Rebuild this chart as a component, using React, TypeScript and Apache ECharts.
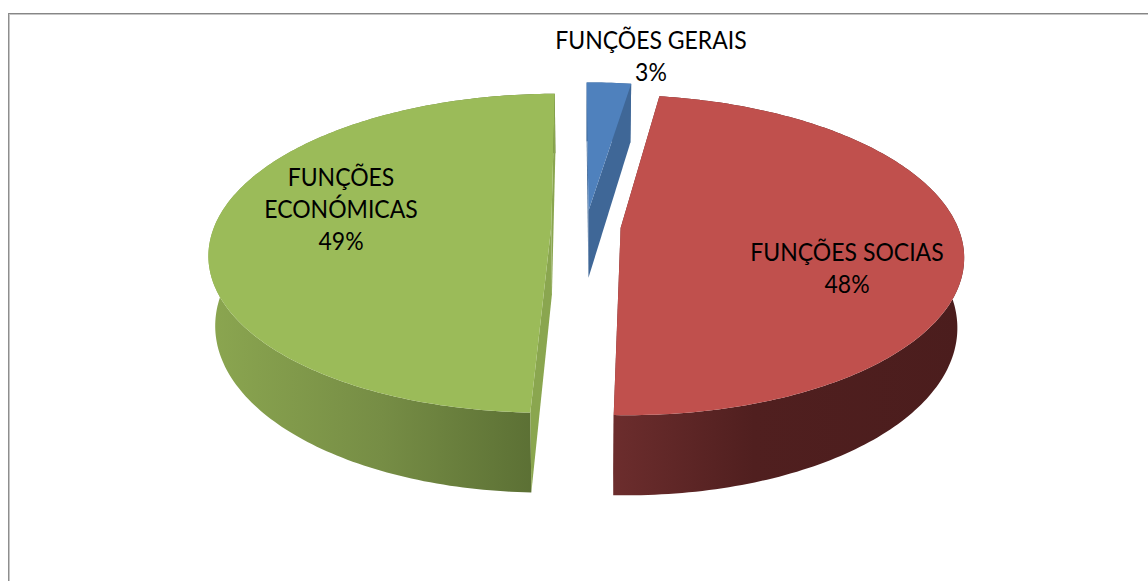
import React, { useEffect, useRef } from "react";
import * as echarts from "echarts";

const categories = ["FUNÇÕES GERAIS", "FUNÇÕES SOCIAS", "FUNÇÕES\nECONÓMICAS"];
const shares = [2.5, 48.13, 49.37];

const topColors = ["#4F81BD", "#C0504D", "#9BBB59"];
const cutColors = ["#3F6797", "#6C2D2D", "#8AA64F"];
const wallStops = [
  [[0, "#3F6797"], [1, "#3F6797"]],
  [[0, "#6C2D2D"], [0.4, "#501F1F"], [1, "#4B1D1D"]],
  [[0, "#8BA650"], [0.5, "#768D45"], [1, "#586C32"]],
];
const labelAnchors = [
  [651, 55],
  [847, 267],
  [341, 208],
];

const FONT = 'Lato, "Open Sans", sans-serif';
const CX = 586;
const CY = 226.5;
const A = 337;
const B = 155;
const K = 0.169;
const EXPLODE = 0.103;
const DEPTH = 68;
const SHRINK_X = 0.982;
const SHRINK_Y = 0.99;
const START = (-0.3 * Math.PI) / 180;

function renderSlice(params: any, api: any) {
  const i = params.dataIndex;
  const total = shares.reduce((a, b) => a + b, 0);
  const before = shares.slice(0, i).reduce((a, b) => a + b, 0);
  const value = api.value(0);
  const t0 = START + (before / total) * Math.PI * 2;
  const t1 = START + ((before + value) / total) * Math.PI * 2;
  const mid = (t0 + t1) / 2;
  const du = EXPLODE * Math.sin(mid);
  const dv = EXPLODE * Math.cos(mid);

  const proj = (r: number, th: number, low: boolean) => {
    const u = du + r * Math.sin(th);
    const v = dv + r * Math.cos(th);
    const w = 1 + K * v;
    const sx = low ? SHRINK_X : 1;
    const sy = low ? SHRINK_Y : 1;
    return [CX + (A * u * sx) / w, CY - (B * v * sy) / w + (low ? DEPTH / w : 0)];
  };

  const arc = (low: boolean) => {
    const n = Math.max(6, Math.ceil(((t1 - t0) * 180) / Math.PI));
    const pts: number[][] = [];
    for (let j = 0; j <= n; j++) pts.push(proj(1, t0 + ((t1 - t0) * j) / n, low));
    return pts;
  };

  const topArc = arc(false);
  const lowArc = arc(true);
  const poly = (points: number[][], fill: any) => ({
    type: "polygon",
    shape: { points },
    style: { fill, stroke: null },
  });

  const face = (th: number) => [
    proj(0, 0, false),
    proj(1, th, false),
    proj(1, th, true),
    proj(0, 0, true),
  ];

  const children: any[] = [
    poly([...topArc, ...lowArc.slice().reverse()], {
      type: "linear",
      x: 0,
      y: 0,
      x2: 1,
      y2: 0,
      colorStops: wallStops[i].map(([offset, color]) => ({ offset, color })),
    }),
    poly(face(t0), cutColors[i]),
    poly(face(t1), cutColors[i]),
    poly([proj(0, 0, false), ...topArc], topColors[i]),
    {
      type: "text",
      z2: 10,
      x: labelAnchors[i][0],
      y: labelAnchors[i][1],
      scaleX: 0.92,
      style: {
        text: `${categories[i]}\n${Math.round((value / total) * 100)}%`,
        x: 0,
        y: 0,
        textAlign: "center",
        textVerticalAlign: "middle",
        fontFamily: FONT,
        fontSize: 25,
        lineHeight: 32,
        fill: "#000000",
      },
    },
  ];
  return { type: "group", children };
}

export default function App() {
  const ref = useRef<HTMLDivElement>(null);
  useEffect(() => {
    const chart = echarts.init(ref.current!, null, { renderer: "svg" });
    chart.setOption({
      animation: false,
      backgroundColor: "#ffffff",
      graphic: [
        { type: "line", silent: true, shape: { x1: 8, y1: 13.5, x2: 1148, y2: 13.5 }, style: { stroke: "#868686", lineWidth: 1 } },
        { type: "line", silent: true, shape: { x1: 8, y1: 14.5, x2: 1148, y2: 14.5 }, style: { stroke: "#C6C6C6", lineWidth: 1 } },
        { type: "line", silent: true, shape: { x1: 8.5, y1: 13, x2: 8.5, y2: 581 }, style: { stroke: "#8E8E8E", lineWidth: 1 } },
        { type: "line", silent: true, shape: { x1: 9.5, y1: 15, x2: 9.5, y2: 581 }, style: { stroke: "#C6C6C6", lineWidth: 1 } },
      ],
      series: [
        {
          type: "custom",
          coordinateSystem: "none",
          renderItem: renderSlice,
          silent: true,
          data: shares.map((v, i) => ({ name: categories[i], value: [v] })),
        },
      ],
    });
    return () => chart.dispose();
  }, []);
  return <div ref={ref} style={{ position: "fixed", left: 0, top: 0, width: 1148, height: 581 }} />;
}
